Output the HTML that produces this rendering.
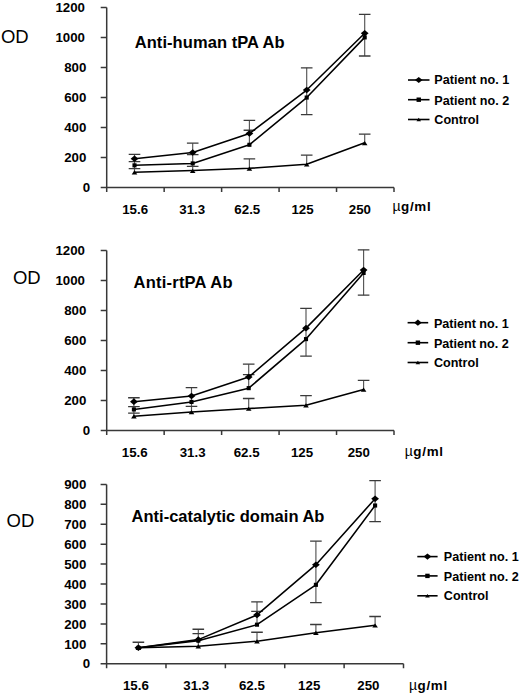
<!DOCTYPE html>
<html><head><meta charset="utf-8"><style>
html,body{margin:0;padding:0;background:#fff;}
body{width:520px;height:695px;overflow:hidden;}
svg{display:block;}
text{font-family:"Liberation Sans", sans-serif;fill:#000;}
.t{font-size:13.3px;font-weight:bold;}
.u{font-size:13.4px;font-weight:bold;letter-spacing:0.75px;}
.mu{font-weight:normal;font-size:14px;letter-spacing:0.4px;}
.ti{font-size:16.5px;font-weight:bold;}
.od{font-size:18.5px;}
.lg{font-size:13.2px;font-weight:bold;}
</style></head><body>
<svg width="520" height="695" viewBox="0 0 520 695">
<rect width="520" height="695" fill="#fff"/>
<path d="M106.7 7.40V191.90M100.7 187.40H394.0" stroke="#383838" stroke-width="1.5" fill="none"/>
<path d="M100.7 157.40H106.7M100.7 127.40H106.7M100.7 97.40H106.7M100.7 67.40H106.7M100.7 37.40H106.7M100.7 7.40H106.7M164.16 187.40V191.90M221.62 187.40V191.90M279.08 187.40V191.90M336.54 187.40V191.90M394.00 187.40V191.90" stroke="#383838" stroke-width="1.5" fill="none"/>
<text x="90.1" y="192.10" text-anchor="end" class="t">0</text>
<text x="86.4" y="162.10" text-anchor="end" class="t">200</text>
<text x="86.4" y="132.10" text-anchor="end" class="t">400</text>
<text x="86.4" y="102.10" text-anchor="end" class="t">600</text>
<text x="86.4" y="72.10" text-anchor="end" class="t">800</text>
<text x="85.0" y="42.10" text-anchor="end" class="t">1000</text>
<text x="85.0" y="12.10" text-anchor="end" class="t">1200</text>
<text x="135.1" y="214.0" text-anchor="middle" class="t">15.6</text>
<text x="192.2" y="214.0" text-anchor="middle" class="t">31.3</text>
<text x="247.3" y="214.0" text-anchor="middle" class="t">62.5</text>
<text x="302.5" y="214.0" text-anchor="middle" class="t">125</text>
<text x="359.9" y="214.0" text-anchor="middle" class="t">250</text>
<text x="392.5" y="210.6" class="u"><tspan class="mu">µ</tspan>g/ml</text>
<text x="134.7" y="47.5" class="ti" letter-spacing="0.07">Anti-human tPA Ab</text>
<text x="0.9" y="43.2" class="od">OD</text>
<path d="M134.50 154.40V172.25M192.70 143.15V171.05M249.40 120.35V144.80M249.40 158.90V168.35M306.70 67.85V114.65M306.70 155.15V164.30M364.70 14.45V56.00M364.70 134.15V142.85" stroke="#555" stroke-width="1.15" fill="none"/>
<path d="M128.70 154.40H140.30M128.70 161.60H140.30M128.70 168.65H140.30M186.90 143.15H198.50M186.90 154.55H198.50M186.90 166.40H198.50M243.60 120.35H255.20M243.60 130.25H255.20M243.60 158.90H255.20M300.90 67.85H312.50M300.90 114.65H312.50M300.90 155.15H312.50M358.90 14.45H370.50M358.90 56.00H370.50M358.90 134.15H370.50" stroke="#3a3a3a" stroke-width="1.3" fill="none"/>
<polyline points="134.50,172.25 192.70,170.60 249.40,168.35 306.70,164.30 364.70,142.85" stroke="#000" stroke-width="1.55" fill="none" stroke-linejoin="round"/>
<polyline points="134.50,165.35 192.70,163.40 249.40,144.80 306.70,97.55 364.70,37.40" stroke="#000" stroke-width="1.55" fill="none" stroke-linejoin="round"/>
<polyline points="134.50,158.75 192.70,152.45 249.40,133.55 306.70,90.05 364.70,33.20" stroke="#000" stroke-width="1.55" fill="none" stroke-linejoin="round"/>
<g fill="#000"><path d="M134.50 170.35L137.30 174.55L131.70 174.55Z"/><path d="M192.70 168.70L195.50 172.90L189.90 172.90Z"/><path d="M249.40 166.45L252.20 170.65L246.60 170.65Z"/><path d="M306.70 162.40L309.50 166.60L303.90 166.60Z"/><path d="M364.70 140.95L367.50 145.15L361.90 145.15Z"/><rect x="132.45" y="163.30" width="4.1" height="4.1"/><rect x="190.65" y="161.35" width="4.1" height="4.1"/><rect x="247.35" y="142.75" width="4.1" height="4.1"/><rect x="304.65" y="95.50" width="4.1" height="4.1"/><rect x="362.65" y="35.35" width="4.1" height="4.1"/><path d="M134.50 155.45L138.40 158.75L134.50 162.05L130.60 158.75Z"/><path d="M192.70 149.15L196.60 152.45L192.70 155.75L188.80 152.45Z"/><path d="M249.40 130.25L253.30 133.55L249.40 136.85L245.50 133.55Z"/><path d="M306.70 86.75L310.60 90.05L306.70 93.35L302.80 90.05Z"/><path d="M364.70 29.90L368.60 33.20L364.70 36.50L360.80 33.20Z"/></g>
<path d="M408 80.0H429.5" stroke="#000" stroke-width="1.6"/>
<g fill="#000"><path d="M418.75 76.90L422.55 80.00L418.75 83.10L414.95 80.00Z"/></g>
<text transform="translate(434.3 84.00) scale(0.955 1)" class="lg">Patient no. 1</text>
<path d="M408 99.7H429.5" stroke="#000" stroke-width="1.6"/>
<g fill="#000"><rect x="416.55" y="97.50" width="4.4" height="4.4"/></g>
<text transform="translate(434.3 104.70) scale(0.955 1)" class="lg">Patient no. 2</text>
<path d="M408 119.5H429.5" stroke="#000" stroke-width="1.6"/>
<g fill="#000"><path d="M418.75 117.70L421.05 121.30L416.45 121.30Z"/></g>
<text transform="translate(434.3 124.00) scale(0.955 1)" class="lg">Control</text>
<path d="M106.7 250.60V435.10M100.7 430.60H394.0" stroke="#383838" stroke-width="1.5" fill="none"/>
<path d="M100.7 400.60H106.7M100.7 370.60H106.7M100.7 340.60H106.7M100.7 310.60H106.7M100.7 280.60H106.7M100.7 250.60H106.7M164.16 430.60V435.10M221.62 430.60V435.10M279.08 430.60V435.10M336.54 430.60V435.10M394.00 430.60V435.10" stroke="#383838" stroke-width="1.5" fill="none"/>
<text x="90.1" y="435.30" text-anchor="end" class="t">0</text>
<text x="86.4" y="405.30" text-anchor="end" class="t">200</text>
<text x="86.4" y="375.30" text-anchor="end" class="t">400</text>
<text x="86.4" y="345.30" text-anchor="end" class="t">600</text>
<text x="86.4" y="315.30" text-anchor="end" class="t">800</text>
<text x="85.0" y="285.30" text-anchor="end" class="t">1000</text>
<text x="85.0" y="255.30" text-anchor="end" class="t">1200</text>
<text x="134.7" y="457.0" text-anchor="middle" class="t">15.6</text>
<text x="192.6" y="457.0" text-anchor="middle" class="t">31.3</text>
<text x="246.6" y="457.0" text-anchor="middle" class="t">62.5</text>
<text x="302.0" y="457.0" text-anchor="middle" class="t">125</text>
<text x="358.8" y="457.0" text-anchor="middle" class="t">250</text>
<text x="404.8" y="456.2" class="u"><tspan class="mu">µ</tspan>g/ml</text>
<text x="133.6" y="287.9" class="ti" letter-spacing="0.22">Anti-rtPA Ab</text>
<text x="12.9" y="283.5" class="od">OD</text>
<path d="M133.90 397.75V416.20M191.50 387.55V412.00M248.70 364.15V388.15M248.70 398.50V408.55M306.00 308.35V356.05M306.00 395.65V405.25M363.60 249.85V295.15M363.60 380.35V389.50" stroke="#555" stroke-width="1.15" fill="none"/>
<path d="M128.10 397.75H139.70M128.10 406.60H139.70M128.10 413.05H139.70M185.70 387.55H197.30M185.70 406.30H197.30M242.90 364.15H254.50M242.90 374.65H254.50M242.90 398.50H254.50M300.20 308.35H311.80M300.20 356.05H311.80M300.20 395.65H311.80M357.80 249.85H369.40M357.80 295.15H369.40M357.80 380.35H369.40" stroke="#3a3a3a" stroke-width="1.3" fill="none"/>
<polyline points="133.90,416.20 191.50,412.00 248.70,408.55 306.00,405.25 363.60,389.50" stroke="#000" stroke-width="1.55" fill="none" stroke-linejoin="round"/>
<polyline points="133.90,409.45 191.50,401.95 248.70,388.15 306.00,339.10 363.60,272.95" stroke="#000" stroke-width="1.55" fill="none" stroke-linejoin="round"/>
<polyline points="133.90,401.65 191.50,395.95 248.70,377.05 306.00,328.15 363.60,269.95" stroke="#000" stroke-width="1.55" fill="none" stroke-linejoin="round"/>
<g fill="#000"><path d="M133.90 414.30L136.70 418.50L131.10 418.50Z"/><path d="M191.50 410.10L194.30 414.30L188.70 414.30Z"/><path d="M248.70 406.65L251.50 410.85L245.90 410.85Z"/><path d="M306.00 403.35L308.80 407.55L303.20 407.55Z"/><path d="M363.60 387.60L366.40 391.80L360.80 391.80Z"/><rect x="131.85" y="407.40" width="4.1" height="4.1"/><rect x="189.45" y="399.90" width="4.1" height="4.1"/><rect x="246.65" y="386.10" width="4.1" height="4.1"/><rect x="303.95" y="337.05" width="4.1" height="4.1"/><rect x="361.55" y="270.90" width="4.1" height="4.1"/><path d="M133.90 398.35L137.80 401.65L133.90 404.95L130.00 401.65Z"/><path d="M191.50 392.65L195.40 395.95L191.50 399.25L187.60 395.95Z"/><path d="M248.70 373.75L252.60 377.05L248.70 380.35L244.80 377.05Z"/><path d="M306.00 324.85L309.90 328.15L306.00 331.45L302.10 328.15Z"/><path d="M363.60 266.65L367.50 269.95L363.60 273.25L359.70 269.95Z"/></g>
<path d="M407.6 322.7H428.2" stroke="#000" stroke-width="1.6"/>
<g fill="#000"><path d="M417.90 319.60L421.70 322.70L417.90 325.80L414.10 322.70Z"/></g>
<text transform="translate(433.9 328.00) scale(0.955 1)" class="lg">Patient no. 1</text>
<path d="M407.6 342.7H428.2" stroke="#000" stroke-width="1.6"/>
<g fill="#000"><rect x="415.70" y="340.50" width="4.4" height="4.4"/></g>
<text transform="translate(433.9 348.30) scale(0.955 1)" class="lg">Patient no. 2</text>
<path d="M407.6 362.5H428.2" stroke="#000" stroke-width="1.6"/>
<g fill="#000"><path d="M417.90 360.70L420.20 364.30L415.60 364.30Z"/></g>
<text transform="translate(433.9 367.30) scale(0.955 1)" class="lg">Control</text>
<path d="M106.6 484.38V668.25M100.6 663.75H403.5" stroke="#383838" stroke-width="1.5" fill="none"/>
<path d="M100.6 643.82H106.6M100.6 623.89H106.6M100.6 603.96H106.6M100.6 584.03H106.6M100.6 564.10H106.6M100.6 544.17H106.6M100.6 524.24H106.6M100.6 504.31H106.6M100.6 484.38H106.6M165.98 663.75V668.25M225.36 663.75V668.25M284.74 663.75V668.25M344.12 663.75V668.25M403.50 663.75V668.25" stroke="#383838" stroke-width="1.5" fill="none"/>
<text x="90.1" y="668.45" text-anchor="end" class="t">0</text>
<text x="86.4" y="648.52" text-anchor="end" class="t">100</text>
<text x="86.4" y="628.59" text-anchor="end" class="t">200</text>
<text x="86.4" y="608.66" text-anchor="end" class="t">300</text>
<text x="86.4" y="588.73" text-anchor="end" class="t">400</text>
<text x="86.4" y="568.80" text-anchor="end" class="t">500</text>
<text x="86.4" y="548.87" text-anchor="end" class="t">600</text>
<text x="86.4" y="528.94" text-anchor="end" class="t">700</text>
<text x="86.4" y="509.01" text-anchor="end" class="t">800</text>
<text x="86.4" y="489.08" text-anchor="end" class="t">900</text>
<text x="135.9" y="690.0" text-anchor="middle" class="t">15.6</text>
<text x="196.2" y="690.0" text-anchor="middle" class="t">31.3</text>
<text x="251.9" y="690.0" text-anchor="middle" class="t">62.5</text>
<text x="309.2" y="690.0" text-anchor="middle" class="t">125</text>
<text x="368.4" y="690.0" text-anchor="middle" class="t">250</text>
<text x="409.0" y="689.6" class="u"><tspan class="mu">µ</tspan>g/ml</text>
<text x="131.6" y="521.8" class="ti" letter-spacing="0">Anti-catalytic domain Ab</text>
<text x="6.6" y="527.3" class="od">OD</text>
<path d="M138.40 642.23V647.81M198.30 629.27V646.21M257.00 601.97V624.69M257.00 632.26V641.23M315.90 541.18V602.56M315.90 624.49V632.66M375.10 480.59V521.65M375.10 616.52V625.29" stroke="#555" stroke-width="1.15" fill="none"/>
<path d="M132.60 642.23H144.20M192.50 629.27H204.10M192.50 633.66H204.10M251.20 601.97H262.80M251.20 611.33H262.80M251.20 632.26H262.80M310.10 541.18H321.70M310.10 602.56H321.70M310.10 624.49H321.70M369.30 480.59H380.90M369.30 521.65H380.90M369.30 616.52H380.90" stroke="#3a3a3a" stroke-width="1.3" fill="none"/>
<polyline points="138.40,647.81 198.30,646.21 257.00,641.23 315.90,632.66 375.10,625.29" stroke="#000" stroke-width="1.55" fill="none" stroke-linejoin="round"/>
<polyline points="138.40,647.81 198.30,640.63 257.00,624.69 315.90,584.83 375.10,505.51" stroke="#000" stroke-width="1.55" fill="none" stroke-linejoin="round"/>
<polyline points="138.40,647.81 198.30,639.63 257.00,614.92 315.90,564.70 375.10,498.73" stroke="#000" stroke-width="1.55" fill="none" stroke-linejoin="round"/>
<g fill="#000"><path d="M138.40 645.91L141.20 650.11L135.60 650.11Z"/><path d="M198.30 644.31L201.10 648.51L195.50 648.51Z"/><path d="M257.00 639.33L259.80 643.53L254.20 643.53Z"/><path d="M315.90 630.76L318.70 634.96L313.10 634.96Z"/><path d="M375.10 623.39L377.90 627.59L372.30 627.59Z"/><rect x="136.35" y="645.76" width="4.1" height="4.1"/><rect x="196.25" y="638.58" width="4.1" height="4.1"/><rect x="254.95" y="622.64" width="4.1" height="4.1"/><rect x="313.85" y="582.78" width="4.1" height="4.1"/><rect x="373.05" y="503.46" width="4.1" height="4.1"/><path d="M138.40 644.51L142.30 647.81L138.40 651.11L134.50 647.81Z"/><path d="M198.30 636.33L202.20 639.63L198.30 642.93L194.40 639.63Z"/><path d="M257.00 611.62L260.90 614.92L257.00 618.22L253.10 614.92Z"/><path d="M315.90 561.40L319.80 564.70L315.90 568.00L312.00 564.70Z"/><path d="M375.10 495.43L379.00 498.73L375.10 502.03L371.20 498.73Z"/></g>
<path d="M417.3 556.6H437.6" stroke="#000" stroke-width="1.6"/>
<g fill="#000"><path d="M427.45 553.50L431.25 556.60L427.45 559.70L423.65 556.60Z"/></g>
<text transform="translate(443.8 560.50) scale(0.955 1)" class="lg">Patient no. 1</text>
<path d="M417.3 575.9H437.6" stroke="#000" stroke-width="1.6"/>
<g fill="#000"><rect x="425.25" y="573.70" width="4.4" height="4.4"/></g>
<text transform="translate(443.8 581.20) scale(0.955 1)" class="lg">Patient no. 2</text>
<path d="M417.3 595.8H437.6" stroke="#000" stroke-width="1.6"/>
<g fill="#000"><path d="M427.45 594.00L429.75 597.60L425.15 597.60Z"/></g>
<text transform="translate(443.8 600.40) scale(0.955 1)" class="lg">Control</text>
</svg>
</body></html>
